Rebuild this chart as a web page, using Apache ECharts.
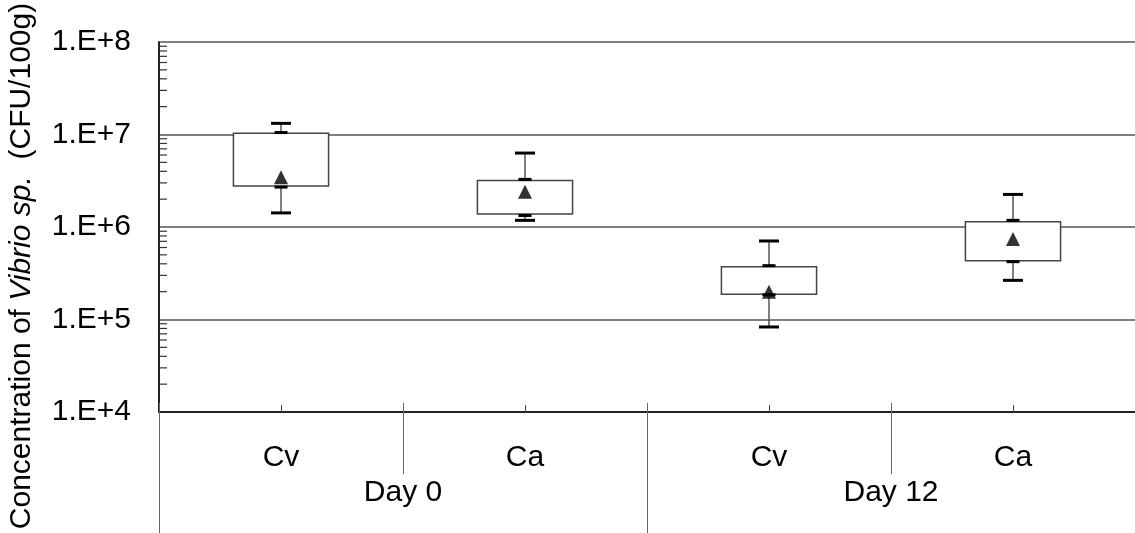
<!DOCTYPE html>
<html>
<head>
<meta charset="utf-8">
<script src="https://cdn.jsdelivr.net/npm/echarts@6/dist/echarts.min.js"></script>
<style>
html,body{margin:0;padding:0;background:#fff;}
#chart{width:1135px;height:533px;}
</style>
</head>
<body>
<div id="chart"></div>
<script>
// ---- data ----
const categories = ['Cv', 'Ca', 'Cv', 'Ca'];
const groups = ['Day 0', 'Day 12'];
const boxLow = [2.77e6, 1.38e6, 1.87e5, 4.32e5];
const boxHigh = [1.03e7, 3.19e6, 3.72e5, 1.14e6];
const whiskerLowOuter = [1.42e6, 1.18e6, 8.3e4, 2.65e5];
const whiskerLowInner = [2.70e6, 1.33e6, 1.85e5, 4.22e5];
const whiskerHighInner = [1.05e7, 3.27e6, 3.82e5, 1.18e6];
const whiskerHighOuter = [1.32e7, 6.3e6, 7.06e5, 2.25e6];
const means = [3.45e6, 2.41e6, 2.0e5, 7.42e5];
const yTickValues = [1e4, 1e5, 1e6, 1e7, 1e8];
const yTickLabels = ['1.E+4', '1.E+5', '1.E+6', '1.E+7', '1.E+8'];
const minorMultipliers = [2, 3, 4, 5, 6, 7, 8, 9];

const minorTickValues = [];
for (let d = 0; d < yTickValues.length - 1; d++) {
  for (const m of minorMultipliers) minorTickValues.push([0, m * yTickValues[d]]);
}

const boxData = categories.map((c, i) => [i, boxLow[i], boxHigh[i], whiskerLowOuter[i], whiskerLowInner[i], whiskerHighInner[i], whiskerHighOuter[i]]);
const meanData = categories.map((c, i) => [i, means[i]]);

const FONT = '"Liberation Sans", Arial, sans-serif';
const chart = echarts.init(document.getElementById('chart'), null, {renderer: 'canvas'});

function renderBox(params, api) {
  const x = api.value(0);
  const pLow = api.coord([x, api.value(1)]);
  const pHigh = api.coord([x, api.value(2)]);
  const wLO = api.coord([x, api.value(3)]);
  const wLI = api.coord([x, api.value(4)]);
  const wHI = api.coord([x, api.value(5)]);
  const wHO = api.coord([x, api.value(6)]);
  const bw = api.size([1, 0])[0] * 0.39;
  const cx = pLow[0];
  const outerCap = 20, innerCap = 13;
  const lineStyle = {stroke: '#555', lineWidth: 1.5, fill: null};
  const capStyle = {stroke: '#000', lineWidth: 3, fill: null};
  return {
    type: 'group',
    children: [
      {type: 'line', shape: {x1: cx, y1: wHO[1], x2: cx, y2: wHI[1]}, style: lineStyle},
      {type: 'line', shape: {x1: cx, y1: wLI[1], x2: cx, y2: wLO[1]}, style: lineStyle},
      {type: 'rect', shape: {x: cx - bw / 2, y: pHigh[1], width: bw, height: pLow[1] - pHigh[1]}, style: {fill: '#fff', stroke: '#444', lineWidth: 1.5}},
      {type: 'line', shape: {x1: cx - outerCap / 2, y1: wHO[1], x2: cx + outerCap / 2, y2: wHO[1]}, style: capStyle},
      {type: 'line', shape: {x1: cx - innerCap / 2, y1: wHI[1], x2: cx + innerCap / 2, y2: wHI[1]}, style: capStyle},
      {type: 'line', shape: {x1: cx - innerCap / 2, y1: wLI[1], x2: cx + innerCap / 2, y2: wLI[1]}, style: capStyle},
      {type: 'line', shape: {x1: cx - outerCap / 2, y1: wLO[1], x2: cx + outerCap / 2, y2: wLO[1]}, style: capStyle}
    ]
  };
}

function renderMinor(params, api) {
  const p = api.coord([0, api.value(1)]);
  const x0 = params.coordSys.x;
  return {type: 'line', shape: {x1: x0, y1: p[1], x2: x0 + 8, y2: p[1]}, style: {stroke: '#333', lineWidth: 1.2}};
}

const option = {
  animation: false,
  backgroundColor: '#fff',
  grid: {left: 159, top: 42, width: 985, height: 370, containLabel: false},
  xAxis: [
    {
      type: 'category', data: categories, position: 'bottom',
      axisLine: {show: true, lineStyle: {color: '#222', width: 2}},
      axisTick: {show: true, inside: true, alignWithLabel: true, length: 7, lineStyle: {color: '#444', width: 1}},
      axisLabel: {show: true, margin: 46, verticalAlign: 'middle', fontSize: 30, color: '#000', fontFamily: FONT},
      splitLine: {show: false}
    },
    {
      type: 'category', data: categories, position: 'bottom',
      axisLine: {show: false},
      axisTick: {show: true, inside: false, length: 62, lineStyle: {color: '#666', width: 1}},
      axisLabel: {show: false}
    },
    {
      type: 'category', data: categories, position: 'bottom',
      axisLine: {show: false},
      axisTick: {show: true, inside: true, length: 9, lineStyle: {color: '#666', width: 1}},
      axisLabel: {show: false}
    },
    {
      type: 'category', data: groups, position: 'bottom',
      axisLine: {show: false},
      axisTick: {show: true, inside: false, length: 121, lineStyle: {color: '#666', width: 1}},
      axisLabel: {show: true, margin: 81, verticalAlign: 'middle', fontSize: 30, color: '#000', fontFamily: FONT}
    }
  ],
  yAxis: {
    type: 'log', logBase: 10, min: yTickValues[0], max: yTickValues[yTickValues.length - 1],
    axisLine: {show: true, lineStyle: {color: '#222', width: 2}},
    axisTick: {show: false},
    minorTick: {show: false},
    axisLabel: {
      margin: 28, fontSize: 30, color: '#000', fontFamily: FONT,
      formatter: v => {
        const idx = yTickValues.findIndex(t => Math.abs(Math.log10(t) - Math.log10(v)) < 1e-6);
        return idx >= 0 ? yTickLabels[idx] : '';
      }
    },
    splitLine: {show: true, lineStyle: {color: '#555', width: 1.5}}
  },
  graphic: [{
    type: 'text', x: 22, y: 266, rotation: Math.PI / 2,
    style: {
      text: '{a|Concentration of }{b|Vibrio sp.}{a|  (CFU/100g)}',
      align: 'center', verticalAlign: 'middle',
      rich: {
        a: {fontSize: 30, fontFamily: FONT, fill: '#000'},
        b: {fontSize: 30, fontFamily: FONT, fontStyle: 'italic', fill: '#000'}
      }
    }
  }],
  series: [
    {type: 'custom', xAxisIndex: 0, yAxisIndex: 0, renderItem: renderMinor, data: minorTickValues, z: 3, silent: true},
    {type: 'custom', xAxisIndex: 0, yAxisIndex: 0, renderItem: renderBox, data: boxData, z: 4},
    {type: 'scatter', xAxisIndex: 0, yAxisIndex: 0, data: meanData, symbol: 'triangle', symbolSize: 14, itemStyle: {color: '#000'}, z: 5}
  ]
};
chart.setOption(option);
</script>
</body>
</html>
